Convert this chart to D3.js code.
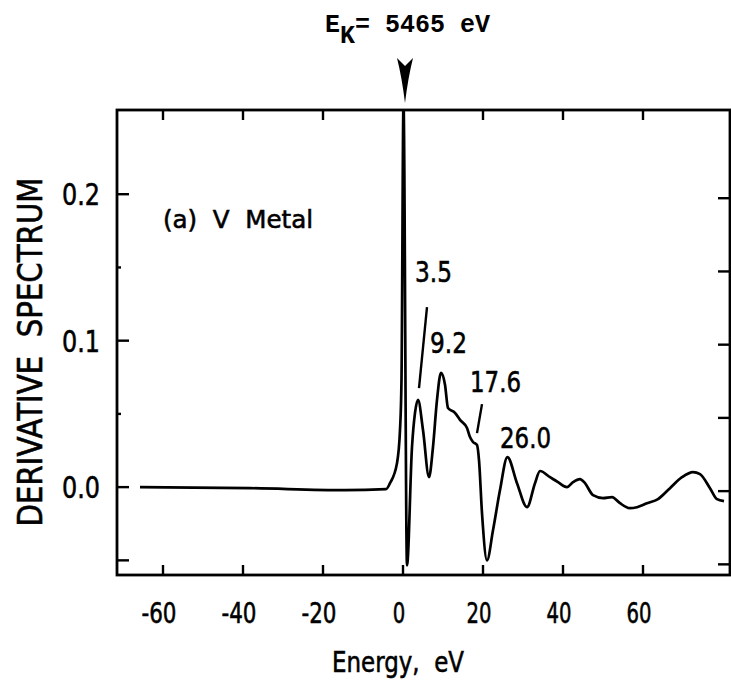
<!DOCTYPE html>
<html>
<head>
<meta charset="utf-8">
<script src="https://cdn.jsdelivr.net/npm/d3@7/dist/d3.min.js"></script>
<style>
body { margin: 0; background: #fff; }
svg { display: block; }
.cond { font-family: "DejaVu Sans", sans-serif; fill: #000; stroke: #000; stroke-width: 0.6; }
.mono { font-family: "Liberation Mono", "DejaVu Sans Mono", monospace; font-weight: bold; fill: #000; }
</style>
</head>
<body>
<svg id="chart" width="731" height="682"></svg>
<script>
// V metal, derivative spectrum vs energy above the K edge
var energy = [-65.75, -38.25, -14.5, -4.25, -3.25, -1.5, -0.75, -0.375, 0.125, 1.0,
  2.25, 3.0, 3.75, 5.0, 6.5, 7.5, 8.5, 9.5, 10.5, 11.25,
  13.0, 14.25, 16.0, 16.75, 17.5, 18.5, 19.0, 19.75, 21.0, 22.5,
  24.25, 26.1, 28.5, 31.0, 33.0, 34.25, 36.75, 38.75, 41.0, 42.5,
  44.25, 45.5, 47.5, 50.0, 52.25, 54.25, 56.75, 58.5, 61.0, 63.75,
  66.75, 69.75, 72.5, 74.25, 76.75, 78.5, 80.25]
var spectrum = [0, -0.0007, -0.002, -0.0014, 0.0027, 0.0164, 0.039, 0.0733, 0.262, -0.0534,
  0.0274, 0.0507, 0.0596, 0.039, 0.0068, 0.0274, 0.0596, 0.078, 0.0699, 0.054,
  0.0507, 0.0459, 0.0404, 0.0342, 0.0308, 0.0288, 0.0185, -0.0178, -0.05, -0.0295,
  -0.002, 0.0205, 0.0027, -0.0137, 0.0027, 0.011, 0.0068, 0.0034, 0, 0.0034,
  0.0055, 0.0027, -0.0055, -0.0075, -0.0068, -0.011, -0.0144, -0.0137, -0.011, -0.0082,
  -0.0007, 0.0068, 0.0103, 0.0089, -0.0007, -0.0082, -0.0096]

var x_ticks = [-60, -40, -20, 0, 20, 40, 60]
var y_ticks = [0.0, 0.1, 0.2]
var y_minor = [-0.05, 0.05, 0.15]
var y_right = [-0.05, 0.0, 0.05, 0.1, 0.15, 0.2]

// peak energies marked on the curve
var peak_labels = ['3.5', '9.2', '17.6', '26.0']
var peak_label_at = [[3.0, 0.140], [6.75, 0.0915], [16.75, 0.0649], [24.25, 0.0266]]
var leaders = [[[6.0, 0.1229], [4.0, 0.0676]], [[19.75, 0.0567], [18.5, 0.0369]]]

var svg = d3.select('#chart')

var x = d3.scaleLinear().domain([-71.5, 81.75]).range([117, 730])
var y = d3.scaleLinear().domain([-0.06, 0.2575]).range([575, 110])

var left = x.range()[0], right = x.range()[1]
var top_ = y.range()[1], bottom = y.range()[0]

// squeeze text to the narrow lettering of the original
var squeeze = function(sel, len){
  sel.attr('textLength', len).attr('lengthAdjust', 'spacingAndGlyphs')
  return sel
}
var num_width = function(s, digit, dot){
  var w = 0
  String(s).split('').forEach(function(c){
    if (c == '.') w += dot
    else if (c == '-') w += 10
    else w += digit
  })
  return w
}

svg.append('defs').append('clipPath').attr('id', 'plot-clip')
  .append('rect')
  .attr('x', left).attr('y', top_)
  .attr('width', right - left).attr('height', bottom - top_)

// Curve
var points = energy.map(function(e, i){ return [e, spectrum[i]] })
var line = d3.line()
  .x(function(d){ return x(d[0]) })
  .y(function(d){ return y(d[1]) })
  .curve(d3.curveMonotoneX)

svg.append('path')
  .datum(points)
  .attr('clip-path', 'url(#plot-clip)')
  .attr('d', line)
  .attr('fill', 'none')
  .attr('stroke', '#000')
  .attr('stroke-width', 2.7)
  .attr('stroke-linejoin', 'round')

// Frame
svg.append('rect')
  .attr('x', left).attr('y', top_)
  .attr('width', right - left).attr('height', bottom - top_)
  .attr('fill', 'none')
  .attr('stroke', '#000')
  .attr('stroke-width', 2.8)

// Ticks, all pointing inward
var ticks = svg.append('g').attr('stroke', '#000').attr('stroke-width', 2.4)

x_ticks.forEach(function(t){
  ticks.append('line').attr('x1', x(t)).attr('x2', x(t)).attr('y1', bottom).attr('y2', bottom - 10)
  if (t != 0) ticks.append('line').attr('x1', x(t)).attr('x2', x(t)).attr('y1', top_).attr('y2', top_ + 10)
})
y_ticks.concat([-0.05]).forEach(function(t){
  ticks.append('line').attr('x1', left).attr('x2', left + 12).attr('y1', y(t)).attr('y2', y(t))
})
y_minor.filter(function(t){ return t > 0 }).forEach(function(t){
  ticks.append('line').attr('x1', left).attr('x2', left + 4).attr('y1', y(t)).attr('y2', y(t))
})
y_right.forEach(function(t){
  ticks.append('line').attr('x1', right).attr('x2', right - 12).attr('y1', y(t) + 4).attr('y2', y(t) + 4)
})

// Tick labels
svg.append('g').selectAll('text')
  .data(x_ticks)
  .enter().append('text')
  .attr('class', 'cond')
  .attr('x', function(d){ return x(d) - 4 })
  .attr('y', 623)
  .attr('text-anchor', 'middle')
  .attr('font-size', 28)
  .text(function(d){ return d < 0 ? '-' + Math.abs(d) : d })
  .each(function(d){
    var s = d < 0 ? '-' + Math.abs(d) : String(d)
    squeeze(d3.select(this), num_width(s, 12.5, 6))
  })

svg.append('g').selectAll('text')
  .data(y_ticks)
  .enter().append('text')
  .attr('class', 'cond')
  .attr('x', 100)
  .attr('y', function(d){ return y(d) + 11 })
  .attr('text-anchor', 'end')
  .attr('font-size', 31)
  .text(function(d){ return d.toFixed(1) })
  .each(function(d){ squeeze(d3.select(this), 38) })

// Axis titles
squeeze(svg.append('text')
  .attr('class', 'cond')
  .attr('x', 398).attr('y', 672)
  .attr('text-anchor', 'middle')
  .attr('font-size', 28)
  .attr('xml:space', 'preserve')
  .text('Energy,  eV'), 132)

squeeze(svg.append('text')
  .attr('class', 'cond')
  .attr('transform', 'translate(42,352) rotate(-90)')
  .attr('text-anchor', 'middle')
  .attr('font-size', 34)
  .attr('xml:space', 'preserve')
  .text('DERIVATIVE  SPECTRUM'), 349)

// Panel label
squeeze(svg.append('text')
  .attr('class', 'cond')
  .attr('x', x(-60)).attr('y', y(0.177))
  .attr('font-size', 25)
  .attr('xml:space', 'preserve')
  .text('(a)  V  Metal'), 150)

// Peak labels and leader lines
svg.append('g').selectAll('text')
  .data(peak_labels)
  .enter().append('text')
  .attr('class', 'cond')
  .attr('x', function(d, i){ return x(peak_label_at[i][0]) })
  .attr('y', function(d, i){ return y(peak_label_at[i][1]) })
  .attr('font-size', 29)
  .text(function(d){ return d })
  .each(function(d){ squeeze(d3.select(this), num_width(d, 14, 9)) })

leaders.forEach(function(l){
  svg.append('line')
    .attr('x1', x(l[0][0])).attr('y1', y(l[0][1]))
    .attr('x2', x(l[1][0])).attr('y2', y(l[1][1]))
    .attr('stroke', '#000').attr('stroke-width', 2.4)
})

// Edge marker: E_K = 5465 eV with arrow
var x0 = x(0) + 2
var title = svg.append('text')
  .attr('class', 'mono')
  .attr('x', x0 - 80).attr('y', 32)
  .attr('font-size', 25)
  .attr('xml:space', 'preserve')
title.append('tspan').text('E')
title.append('tspan').attr('dy', 11).text('K')
title.append('tspan').attr('dy', -11).text('= 5465 eV')

svg.append('path')
  .attr('d', 'M' + (x0 - 8) + ',58 L' + x0 + ',66 L' + (x0 + 8) + ',58 Q' + (x0 + 3) + ',78 ' + x0 + ',103 Q' + (x0 - 3) + ',78 ' + (x0 - 8) + ',58 Z')
  .attr('fill', '#000')
</script>
</body>
</html>
